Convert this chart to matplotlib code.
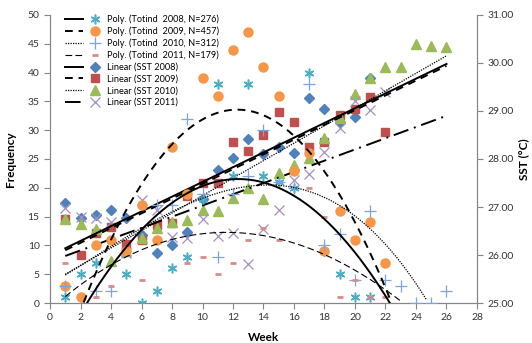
import numpy as np
import matplotlib
matplotlib.use("Agg")
import matplotlib.pyplot as plt
from matplotlib.lines import Line2D
from matplotlib.legend_handler import HandlerTuple
from matplotlib.ticker import FormatStrFormatter

plt.rcParams['font.family'] = ['Lato', 'DejaVu Sans']

# Totind counts (left axis)
wk_t08 = [1, 2, 3, 5, 6, 7, 8, 9, 10, 11, 12, 13, 14, 15, 16, 17, 18, 19, 20, 21]
t08 = [1, 5, 7, 5, 0, 2, 6, 8, 18, 38, 22, 38, 22, 21, 20, 40, 9, 5, 1, 1]

wk_t09 = list(range(1, 23))
t09 = [3, 1, 10, 11, 9, 17, 11, 27, 19, 39, 36, 44, 47, 41, 36, 23, 26, 9, 16, 11, 14, 7]

wk_t10 = [1, 3, 4, 7, 8, 9, 10, 11, 12, 13, 14, 15, 16, 17, 18, 19, 20, 21, 22, 23, 24, 25, 26]
t10 = [3, 2, 2, 17, 17, 32, 19, 8, 19, 22, 30, 21, 20, 38, 10, 12, 4, 16, 4, 3, 0, 0, 2]

wk_t11 = [1, 3, 4, 6, 9, 10, 11, 12, 13, 14, 15, 17, 18, 19, 20, 21, 22]
t11 = [7, 1, 3, 4, 7, 8, 5, 7, 11, 13, 11, 20, 15, 1, 4, 1, 1]

# SST (right axis)
wk_s08 = list(range(1, 22))
s08 = [27.08, 26.77, 26.83, 26.94, 26.77, 26.42, 26.04, 26.21, 26.48, 27.17, 27.77,
       28.02, 28.42, 28.10, 28.25, 28.12, 29.27, 29.04, 28.77, 28.88, 29.69]

wk_s09 = list(range(1, 23))
s09 = [26.75, 26.00, 26.46, 26.58, 26.23, 26.31, 26.62, 26.67, 27.23, 27.50, 27.50,
       28.35, 28.17, 28.50, 28.98, 28.77, 28.25, 28.35, 28.92, 29.04, 29.29, 28.56]

wk_s10 = list(range(1, 27))
s10 = [26.75, 26.65, 26.54, 25.88, 26.08, 26.35, 26.56, 26.69, 26.73, 26.94, 26.92,
       27.19, 27.40, 27.17, 27.71, 27.88, 28.02, 28.44, 28.85, 29.35, 29.69, 29.92,
       29.92, 30.40, 30.35, 30.33]

wk_s11 = list(range(1, 23))
s11 = [26.98, 26.79, 26.77, 26.69, 26.04, 27.15, 26.94, 26.38, 26.35, 26.75, 26.40,
       26.46, 25.81, 26.54, 26.94, 27.56, 27.69, 28.15, 28.65, 29.20, 29.02, 29.40]

# trendlines (week, value)
tr_t08_w = [2.4, 5.9, 8.5, 12.35, 15.1, 17.7, 19.9, 22.3]
tr_t08_v = [0, 12.0, 18.6, 21.7, 19.6, 15.4, 9.0, 0]
tr_t09_w = [2.2, 6.4, 8, 9.8, 12.3, 14.4, 15.7, 17.7, 22.4]
tr_t09_v = [0, 22.6, 27.3, 31.4, 33.6, 32.1, 29.7, 24.0, 0]
tr_t10_w = [1, 8, 13.8, 17.7, 20.3, 22.1, 23.4, 24.7]
tr_t10_v = [4.9, 15.5, 21.4, 17.9, 13.9, 10.4, 6.3, 0]
tr_t11_w = [1, 3.3, 8.5, 11.8, 13.8, 17.7, 20.5, 23.1]
tr_t11_v = [1.0, 5.7, 11.3, 12.2, 11.8, 8.6, 5.2, 0]

tr_sst_w = [1, 26]
tr_s08 = [26.14, 29.98]
tr_s09 = [26.10, 29.94]
tr_s10 = [25.60, 30.15]
tr_s11 = [25.98, 28.90]

c_t08 = '#4BACC6'
c_t09 = '#F79646'
c_t10 = '#7EA3DA'
c_t11 = '#D98B8B'
c_s08 = '#4F81BD'
c_s09 = '#C0504D'
c_s10 = '#9BBB59'
c_s11 = '#A391C4'

fig = plt.figure(figsize=(5.32, 3.43), dpi=100)
ax = fig.add_axes([0.094, 0.1166, 0.8026, 0.8397])
ax2 = ax.twinx()

# markers
ax.plot(wk_t08, t08, ls='none', marker=(6, 2, 0), ms=7, mew=1.1, color=c_t08, zorder=3)
ax.plot(wk_t09, t09, ls='none', marker='o', ms=6.5, color=c_t09, zorder=3)
ax.plot(wk_t10, t10, ls='none', marker='+', ms=8, mew=0.9, color=c_t10, zorder=3)
ax.plot(wk_t11, t11, ls='none', marker='_', ms=5, mew=2, color=c_t11, zorder=3)
ax2.plot(wk_s08, s08, ls='none', marker='D', ms=5, color=c_s08, zorder=3)
ax2.plot(wk_s09, s09, ls='none', marker='s', ms=6, color=c_s09, zorder=3)
ax2.plot(wk_s10, s10, ls='none', marker='^', ms=6.5, color=c_s10, zorder=3)
ax2.plot(wk_s11, s11, ls='none', marker='x', ms=7, mew=0.9, color=c_s11, zorder=3)

# trendlines
styles_poly = [('-', 1.4), ((0, (4, 3)), 1.4), ((0, (1, 1)), 0.9), ((0, (6, 3)), 0.8)]
styles_lin = [('-', 1.4), ((0, (4, 3)), 1.4), ((0, (1, 1)), 0.9), ((0, (8, 3, 1, 3)), 1.4)]
poly_lines = []
for (w, v), (ls, lw) in zip([(tr_t08_w, tr_t08_v), (tr_t09_w, tr_t09_v),
                              (tr_t10_w, tr_t10_v), (tr_t11_w, tr_t11_v)], styles_poly):
    p = np.polyfit(w, v, 3)
    xx = np.linspace(min(w), max(w), 200)
    ln, = ax.plot(xx, np.polyval(p, xx), color='black', ls=ls, lw=lw, zorder=4)
    poly_lines.append(ln)
lin_lines = []
for v, (ls, lw) in zip([tr_s08, tr_s09, tr_s10, tr_s11], styles_lin):
    ln, = ax2.plot(tr_sst_w, v, color='black', ls=ls, lw=lw, zorder=4)
    lin_lines.append(ln)

ax.set_xlim(0, 28)
ax.set_ylim(0, 50)
ax2.set_ylim(25, 31)
ax.set_xticks(range(0, 29, 2))
ax.set_yticks(range(0, 51, 5))
ax2.set_yticks(range(25, 32))
ax2.yaxis.set_major_formatter(FormatStrFormatter('%.2f'))

for a in (ax, ax2):
    a.spines['top'].set_visible(False)
    for s in ('left', 'right', 'bottom'):
        a.spines[s].set_color('#868686')
    a.tick_params(colors='#868686', labelcolor='#333333', labelsize=7.5, length=4, width=0.8)

ax.set_xlabel('Week', fontsize=8.5, fontweight='bold', labelpad=7)
ax.set_ylabel('Frequency', fontsize=8.5, fontweight='bold', labelpad=8)
ax2.set_ylabel('SST (°C)', fontsize=8.5, fontweight='bold', labelpad=3)

mk = [
    Line2D([], [], ls='none', marker=(6, 2, 0), ms=7, mew=1.1, color=c_t08),
    Line2D([], [], ls='none', marker='o', ms=6.5, color=c_t09),
    Line2D([], [], ls='none', marker='+', ms=8, mew=0.9, color=c_t10),
    Line2D([], [], ls='none', marker='_', ms=5, mew=2, color=c_t11),
    Line2D([], [], ls='none', marker='D', ms=5, color=c_s08),
    Line2D([], [], ls='none', marker='s', ms=6, color=c_s09),
    Line2D([], [], ls='none', marker='^', ms=6.5, color=c_s10),
    Line2D([], [], ls='none', marker='x', ms=7, mew=0.9, color=c_s11),
]
labels = ['Poly. (Totind  2008, N=276)', 'Poly. (Totind  2009, N=457)',
          'Poly. (Totind  2010, N=312)', 'Poly. (Totind  2011, N=179)',
          'Linear (SST 2008)', 'Linear (SST 2009)', 'Linear (SST 2010)', 'Linear (SST 2011)']
handles = [(l, m) for l, m in zip(poly_lines + lin_lines, mk)]
leg = ax.legend(handles, labels, loc='upper left', bbox_to_anchor=(0.02, 1.025),
                handler_map={tuple: HandlerTuple(ndivide=None, pad=0.3)},
                handlelength=4.2, fontsize=6.6, frameon=False, labelspacing=0.29,
                handletextpad=0.4, borderpad=0.2)
ax.set_zorder(ax2.get_zorder() + 1)
ax.patch.set_visible(False)

fig.savefig('out.png', dpi=100)
